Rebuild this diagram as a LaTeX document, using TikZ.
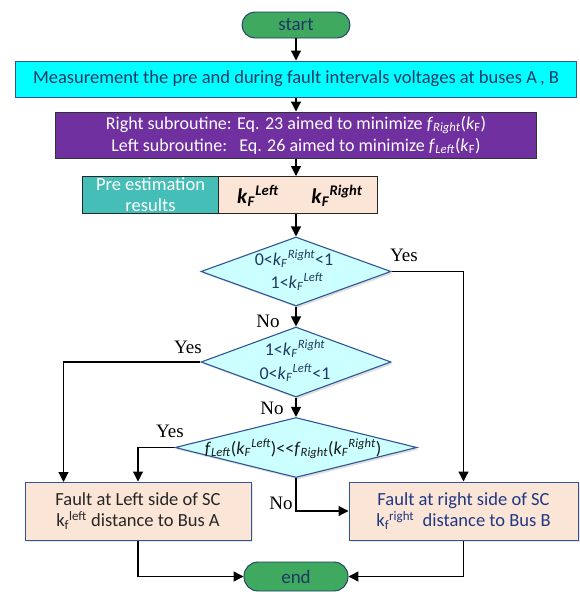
\documentclass[tikz,border=0pt]{standalone}
\usepackage{fontspec}
\setmainfont{Carlito}
\newfontfamily\serifyn{Liberation Serif}
\usetikzlibrary{arrows.meta,shapes.geometric,shadows,calc}
\definecolor{navy}{RGB}{31,56,100}
\definecolor{dborder}{RGB}{47,85,151}
\definecolor{dfill}{RGB}{204,255,255}
\definecolor{termfill}{RGB}{63,170,95}
\definecolor{purp}{RGB}{112,48,160}
\definecolor{tealf}{RGB}{69,190,183}
\definecolor{peach}{RGB}{251,229,214}
\definecolor{rblue}{RGB}{32,56,130}
\definecolor{cyanf}{RGB}{0,255,255}
\newcommand{\kFr}{\textit{k}\textsubscript{\textit{F}}\textsuperscript{\textit{Right}}}
\newcommand{\kFl}{\textit{k}\textsubscript{\textit{F}}\textsuperscript{\textit{Left}}}
\tikzset{
  term/.style={draw=navy, line width=0.9pt, fill=termfill, rounded corners=13pt, text=navy, font=\fontsize{19}{22}\selectfont, inner sep=0pt},
  dia/.style={diamond, draw=dborder, line width=1.1pt, fill=dfill, inner sep=0pt, drop shadow={opacity=0.25, shadow xshift=2pt, shadow yshift=-2pt}},
  dtext/.style={text=navy, font=\fontsize{18}{20}\selectfont, inner sep=0pt},
  fbox/.style={draw=dborder, line width=1pt, fill=peach, inner sep=0pt, align=center, font=\fontsize{18.5}{21}\selectfont, drop shadow={opacity=0.2, shadow xshift=2pt, shadow yshift=-2pt}},
  arr/.style={line width=1.2pt, -{Triangle[length=10pt,width=10pt]}},
  yn/.style={font=\serifyn\fontsize{19}{21}\selectfont, inner sep=0pt}
}
\begin{document}
\begin{tikzpicture}[x=1pt,y=-1pt]
\useasboundingbox (0,0) rectangle (579,592);
\node[term, minimum width=108pt, minimum height=26pt] (start) at (296,25) {start};
\node[draw=dborder, line width=1pt, fill=cyanf, minimum width=561pt, minimum height=36pt, inner sep=0pt, text=navy, font=\fontsize{18.5}{21}\selectfont] (meas) at (296,79) {Measurement the pre and during fault intervals voltages at buses A\,, B};
\node[draw=black!80, line width=1pt, fill=purp, minimum width=481pt, minimum height=46pt, inner sep=0pt, text=white, align=center, font=\fontsize{18}{22}\selectfont] (purple) at (296,135) {Right subroutine: Eq. 23 aimed to minimize \textit{f}\textsubscript{\textit{Right}}(\textit{k}\textsubscript{F})\\ Left subroutine:\ \ \ Eq. 26 aimed to minimize \textit{f}\textsubscript{\textit{Left}}(\textit{k}\textsubscript{F})};
\node[draw=black!85, line width=1pt, fill=tealf, minimum width=136pt, minimum height=37pt, inner sep=0pt, text=white, align=center, font=\fontsize{18.5}{21}\selectfont, anchor=north west] (preL) at (82,176) {Pre estimation\\results};
\node[draw=black!85, line width=1pt, fill=peach, minimum width=158.5pt, minimum height=37pt, inner sep=0pt, anchor=north west] (preR) at (218,176) {};
\node[font=\fontsize{21}{24}\selectfont\bfseries, inner sep=0pt] (kl) at (258,196) {\kFl};
\node[font=\fontsize{21}{24}\selectfont\bfseries, inner sep=0pt] (kr) at (337,196) {\kFr};
\node[dia, minimum width=190pt, minimum height=69pt] (d1) at (296,271.5) {};
\node[dtext] (d1a) at (294,259) {0<\kFr<1};
\node[dtext] (d1b) at (297,282) {1<\kFl};
\node[dia, minimum width=190pt, minimum height=70pt] (d2) at (296,362) {};
\node[dtext] (d2a) at (295,349) {1<\kFr};
\node[dtext] (d2b) at (295,373) {0<\kFl<1};
\node[dia, minimum width=242pt, minimum height=60pt] (d3) at (296,447.5) {};
\node[dtext, text=black!90] (d3a) at (293,449) {\textit{f}\textsubscript{\textit{Left}}(\kFl){<}{<}\textit{f}\textsubscript{\textit{Right}}(\kFr)};
\node[fbox, minimum width=226pt, minimum height=58pt, text=black!85] (lbox) at (138,511) {Fault at Left side of SC\\ k\textsubscript{f}\textsuperscript{left} distance to Bus A};
\node[fbox, minimum width=229pt, minimum height=58pt, text=rblue] (rbox) at (463.5,511) {Fault at right side of SC\\ k\textsubscript{f}\textsuperscript{right}\ \ distance to Bus B};
\node[term, minimum width=104pt, minimum height=29pt, rounded corners=14pt] (end) at (296,576.5) {end};
\coordinate (lA) at (63.5,482);
\draw[arr] (start) -- (meas);
\draw[arr] (meas) -- (purple);
\draw[arr] (purple.south) -- (purple.south |- preR.north);
\draw[arr] (d1.north |- preR.south) -- (d1.north);
\draw[arr] (d1.east) -| (rbox.north);
\draw[arr] (d1.south) -- (d2.north);
\draw[arr] (d2.west) -| (lA);
\draw[arr] (d2.south) -- (d3.north);
\draw[arr] (d3.west) -| (lbox.north);
\draw[arr] (d3.south) |- (rbox.west);
\draw[arr] (lbox.south) |- (end.west);
\draw[arr] (rbox.south) |- (end.east);
\node[yn] (y1) at (404,255) {Yes};
\node[yn] (n1) at (268,321) {No};
\node[yn] (y2) at (188,347) {Yes};
\node[yn] (n2) at (272,408) {No};
\node[yn] (y3) at (170,431) {Yes};
\node[yn] (n3) at (281,503) {No};
\end{tikzpicture}
\end{document}
